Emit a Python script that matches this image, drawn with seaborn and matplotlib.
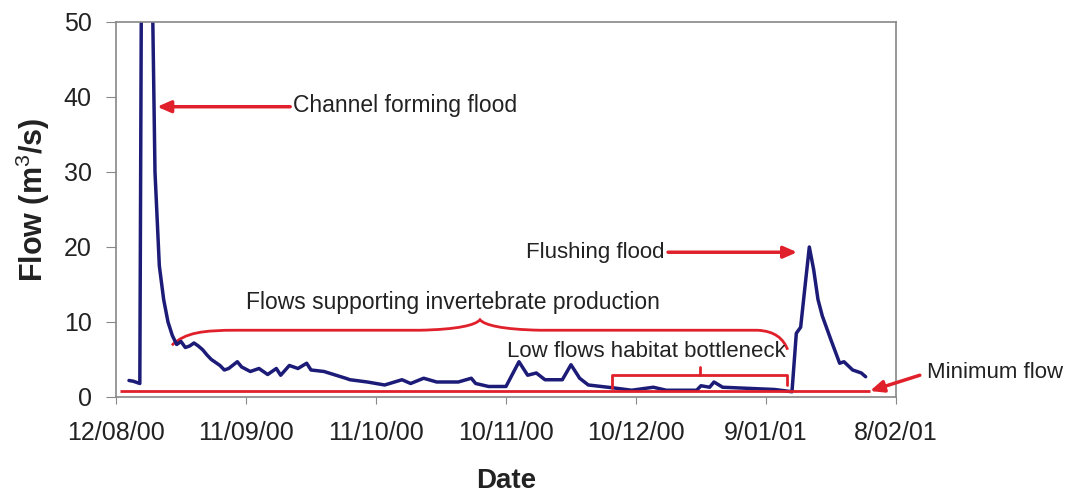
import numpy as np
import pandas as pd
import matplotlib
import matplotlib.pyplot as plt
import matplotlib.dates as mdates
from matplotlib.path import Path
from matplotlib.patches import PathPatch
import seaborn as sns

matplotlib.use('Agg')

# days after 12 Aug 2000 and the flow (m3/s)
start = pd.Timestamp('2000-08-12')
days = [3, 4, 5.5, 6, 7, 8, 9, 10, 11, 12, 13, 14, 15, 16, 17, 18, 19, 20, 21, 22,
        24, 25, 26, 28, 29, 31, 33, 35, 37, 38, 40, 42, 44, 45, 48, 53, 54, 58, 62,
        66, 68, 71, 74, 79, 82, 83, 86, 90, 93, 95, 97, 99, 103, 105, 107, 109, 112,
        115, 119, 124, 127, 134, 135, 137, 138, 140, 144, 152, 156, 157, 158, 159,
        160, 161, 162, 163, 165, 167, 168, 170, 172, 173]
flow = [2.2, 2.1, 1.8, 75, 90, 70, 30, 17.5, 13, 10, 8.2, 7.0, 7.4, 6.6, 6.8, 7.2,
        6.8, 6.3, 5.6, 5.0, 4.2, 3.6, 3.8, 4.7, 4.0, 3.4, 3.8, 3.0, 3.8, 2.9, 4.2,
        3.8, 4.5, 3.6, 3.4, 2.5, 2.3, 2.0, 1.6, 2.3, 1.8, 2.5, 2.0, 2.0, 2.5, 1.8,
        1.4, 1.4, 4.7, 2.9, 3.2, 2.3, 2.3, 4.3, 2.5, 1.6, 1.4, 1.2, 0.9, 1.3, 0.9,
        0.9, 1.5, 1.3, 2.0, 1.3, 1.2, 1.0, 0.7, 8.5, 9.3, 14.7, 20, 17, 13, 10.8,
        7.6, 4.5, 4.7, 3.6, 3.2, 2.7]
min_flow = 0.8
tick_days = [0, 30, 60, 90, 120, 150, 180]
tick_labels = ['12/08/00', '11/09/00', '11/10/00', '10/11/00', '10/12/00', '9/01/01', '8/02/01']

df = pd.DataFrame({'Date': [start + pd.Timedelta(days=d) for d in days], 'Flow': flow})

def day(d):
    return mdates.date2num(start + pd.Timedelta(days=d))

sns.set_style('white')
plt.rcParams['font.family'] = ['Liberation Sans', 'DejaVu Sans']
plt.rcParams['mathtext.fontset'] = 'custom'
plt.rcParams['mathtext.rm'] = 'Liberation Sans'
plt.rcParams['mathtext.default'] = 'rm'

navy = '#1c1c78'
red = '#e0202a'
txt = '#222222'
fs = 16.5

fig = plt.figure(figsize=(10.72, 4.95), dpi=100)
ax = fig.add_axes([0.1082, 0.198, 0.7276, 0.7576])

sns.lineplot(data=df, x='Date', y='Flow', ax=ax, color=navy, linewidth=2.5)
ax.hlines(min_flow, day(1), day(174), color=red, linewidth=2)

ax.set_xlim(day(0), day(180))
ax.set_ylim(0, 50)
ax.set_xticks([day(d) for d in tick_days])
ax.set_xticklabels(tick_labels)
ax.set_yticks([0, 10, 20, 30, 40, 50])
ax.tick_params(axis='both', labelsize=18, direction='out', color='#888888',
               bottom=True, left=True, labelcolor=txt)
ax.tick_params(axis='y', length=7, pad=10.5)
ax.tick_params(axis='x', length=5, pad=12)
for s in ax.spines.values():
    s.set_color('#888888')
    s.set_linewidth(1.2)
ax.set_xlabel('Date', fontsize=20, fontweight='bold', va='center', color=txt)
ax.xaxis.set_label_coords(0.5, -0.223)
ax.set_ylabel('Flow (m$^{3}$/s)', fontsize=22, fontweight='bold', va='center', color=txt)
ax.yaxis.set_label_coords(-0.106, 0.525)

arrow = dict(arrowstyle='-|>,head_length=0.8,head_width=0.35', color=red, lw=2.5,
             shrinkA=0, shrinkB=0)

ax.annotate('', xy=(day(9.5), 38.7), xytext=(day(40.2), 38.7), arrowprops=arrow)
ax.text(day(40.8), 38.9, 'Channel forming flood', fontsize=fs, va='center', ha='left', color=txt)

ax.annotate('', xy=(day(157.2), 19.3), xytext=(day(127.4), 19.3), arrowprops=arrow)
ax.text(day(126.6), 19.3, 'Flushing flood', fontsize=16, va='center', ha='right', color=txt)

ax.annotate('', xy=(day(174), 0.8), xytext=(day(185.5), 2.9), arrowprops=arrow,
            annotation_clip=False)
ax.text(day(187.2), 3.3, 'Minimum flow', fontsize=16, va='center', ha='left',
        color=txt, clip_on=False)

ax.text(day(77.8), 12.6, 'Flows supporting invertebrate production', fontsize=fs,
        ha='center', va='center', color=txt)
ax.text(day(122.3), 6.0, 'Low flows habitat bottleneck', fontsize=16,
        ha='center', va='center', color=txt)

# curly brace over the invertebrate production period
verts = [(day(12.9), 6.9),
         (day(16), 8.6), (day(20), 8.9), (day(28), 8.9),
         (day(70), 8.9),
         (day(79), 9.0), (day(83), 9.6), (day(84), 10.3),
         (day(85), 9.6), (day(89), 9.0), (day(98), 8.9),
         (day(148), 8.9),
         (day(152), 8.8), (day(154), 7.8), (day(155), 6.3)]
codes = [Path.MOVETO, Path.CURVE4, Path.CURVE4, Path.CURVE4, Path.LINETO,
         Path.CURVE4, Path.CURVE4, Path.CURVE4, Path.CURVE4, Path.CURVE4, Path.CURVE4,
         Path.LINETO, Path.CURVE4, Path.CURVE4, Path.CURVE4]
ax.add_patch(PathPatch(Path(verts, codes), fill=False, edgecolor=red, lw=2))

# square bracket under the low flow period
ax.plot([day(114.5), day(114.5), day(154.9), day(154.9)], [1.2, 2.9, 2.9, 1.6],
        color=red, lw=2)
ax.plot([day(134.8), day(134.8)], [2.9, 4.0], color=red, lw=2)

fig.savefig('out.png', dpi=100)
